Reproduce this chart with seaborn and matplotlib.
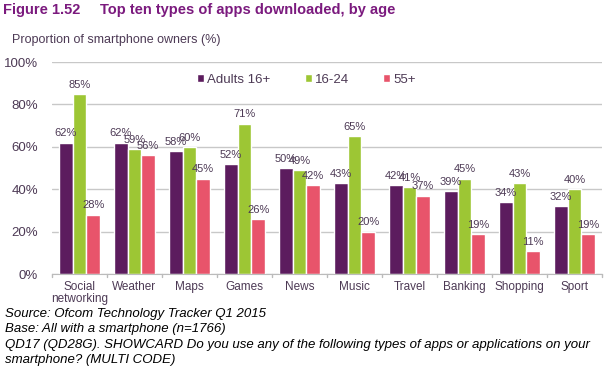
import pandas as pd
import seaborn as sns
import matplotlib.pyplot as plt

categories = ["Social\nnetworking", "Weather", "Maps", "Games", "News",
              "Music", "Travel", "Banking", "Shopping", "Sport"]
adults = [62, 62, 58, 52, 50, 43, 42, 39, 34, 32]
young = [85, 59, 60, 71, 49, 65, 41, 45, 43, 40]
older = [28, 56, 45, 26, 42, 20, 37, 19, 11, 19]
groups = ["Adults 16+", "16-24", "55+"]
colors = ["#5c1c5e", "#9dc634", "#e8546b"]

rows = []
for i, cat in enumerate(categories):
    for g, vals in zip(groups, [adults, young, older]):
        rows.append([cat, g, vals[i]])
df = pd.DataFrame(rows, columns=["App", "Age", "Value"])

sns.set_style("white")
plt.rcParams['font.family'] = ['Liberation Sans', 'DejaVu Sans']
text_col = "#4d3a55"

fig = plt.figure(figsize=(6.09, 3.75), dpi=100)
ax = fig.add_axes([0.0854, 0.2693, 0.903, 0.5653])
sns.barplot(data=df, x="App", y="Value", hue="Age", palette=colors,
            width=0.745, ax=ax, saturation=1)

for cont in ax.containers:
    ax.bar_label(cont, labels=[f"{int(v)}%" for v in cont.datavalues],
                 padding=3, fontsize=8, color=text_col)

ax.set_ylim(0, 100)
ax.set_yticks(range(0, 101, 20))
ax.set_yticklabels([f"{v}%" for v in range(0, 101, 20)], fontsize=9.5, color=text_col)
ax.set_xticklabels(categories, fontsize=8.5, color=text_col, linespacing=1.05)
ax.set_xlim(-0.5, len(categories) - 0.5)
ax.yaxis.grid(True, color="#c8c8c8", linewidth=1)
ax.set_axisbelow(True)
for s in ["top", "right", "left"]:
    ax.spines[s].set_visible(False)
ax.spines["bottom"].set_color("#bbbbbb")
ax.tick_params(axis="y", length=0, pad=10)
ax.tick_params(axis="x", length=0, pad=5)
for i in range(len(categories) + 1):
    ax.plot([i - 0.5, i - 0.5], [0, -1.5], color="#bbbbbb", lw=1, clip_on=False)
ax.set_xlabel("")
ax.set_ylabel("")

leg = ax.legend(loc="center", bbox_to_anchor=(0.503, 0.787), bbox_transform=fig.transFigure,
                ncol=3, frameon=False, fontsize=9.5, handlelength=0.55, handleheight=0.55,
                handletextpad=0.2, columnspacing=2.6)
for t in leg.get_texts():
    t.set_color(text_col)

fig.text(0.005, 0.973, "Figure 1.52", fontsize=10.5, fontweight="bold", color="#7b1a7e", va="center")
fig.text(0.164, 0.973, "Top ten types of apps downloaded, by age", fontsize=10.5,
         fontweight="bold", color="#7b1a7e", va="center")
fig.text(0.02, 0.893, "Proportion of smartphone owners (%)", fontsize=9, color=text_col, va="center")

notes = ["Source: Ofcom Technology Tracker Q1 2015",
         "Base: All with a smartphone (n=1766)",
         "QD17 (QD28G). SHOWCARD Do you use any of the following types of apps or applications on your",
         "smartphone? (MULTI CODE)"]
for k, line in enumerate(notes):
    fig.text(0.008, 0.163 - k * 0.0413, line, fontsize=9.5, style="italic", color="black", va="center")

fig.savefig("out.png", dpi=100)
